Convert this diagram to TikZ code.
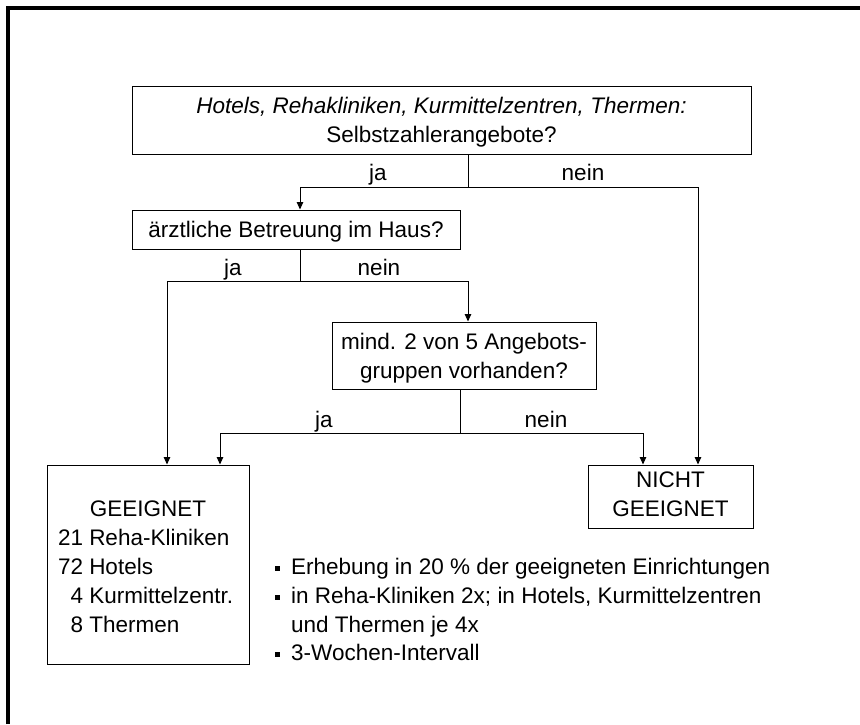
\documentclass[tikz,border=0pt]{standalone}
\usepackage{fontspec}
\setmainfont{Liberation Sans}
\usetikzlibrary{arrows.meta}
\newcommand\tstrut{\rule{0pt}{21pt}}
\newcommand\dstrut{\rule[-4.5pt]{0pt}{4.5pt}}
\newcommand\sqbullet{\rule[3.5pt]{5pt}{5pt}\hspace{11pt}}
\begin{document}
\begin{tikzpicture}[x=1pt,y=-1pt,
  every node/.style={font=\fontsize{22.5pt}{29.5pt}\selectfont},
  box/.style={draw, line width=1pt, inner sep=0pt, align=center},
  link/.style={line width=1pt},
  arr/.style={line width=1pt, -{Triangle[length=7.5pt,width=6.5pt]}},
  lbl/.style={anchor=base, inner sep=0pt},
  txt/.style={anchor=base west, inner sep=0pt}
]
\useasboundingbox (0,0) rectangle (860,724);
\draw[line width=3.2pt] (8,724) -- (8,8) -- (860,8);

% boxes
\node[box, minimum width=619pt, minimum height=68pt] (q1) at (441.5,120)
  {\tstrut\itshape Hotels, Rehakliniken, Kurmittelzentren, Thermen:\\Selbstzahlerangebote?};
\node[box, minimum width=328pt, minimum height=39pt] (q2) at (296,229.5)
  {\tstrut ärztliche Betreuung im Haus?};
\node[box, minimum width=264pt, minimum height=67pt, font=\fontsize{22.5pt}{29pt}\selectfont] (q3) at (464,355.5)
  {\tstrut mind. 2 von 5 Angebots-\\gruppen vorhanden?};
\node[box, minimum width=202pt, minimum height=199pt, align=left, font=\fontsize{22.5pt}{29pt}\selectfont] (ok) at (148,564.5)
  {\tstrut\makebox[180pt][c]{GEEIGNET}\\21 Reha-Kliniken\\72 Hotels\\\hphantom{0}4 Kurmittelzentr.\\\hphantom{0}8 Thermen};
\node[box, minimum width=165pt, minimum height=63pt, font=\fontsize{22.5pt}{29pt}\selectfont] (no) at (670.5,496.5)
  {NICHT\\GEEIGNET\dstrut};

% junctions
\coordinate (j1) at (468,187);
\coordinate (j1l) at (300,187);
\coordinate (j1r) at (698,187);
\coordinate (j2) at (300,281);
\coordinate (j2l) at (167,281);
\coordinate (j2r) at (468,281);
\coordinate (j3) at (460,433);
\coordinate (j3l) at (220,433);
\coordinate (j3r) at (643,433);

% connectors
\draw[link] (q1.south -| j1) -- (j1);
\draw[arr] (j1) -| (q2.north -| j1l);
\draw[arr] (j1) -| (no.north -| j1r);
\draw[link] (q2.south -| j2) -- (j2);
\draw[arr] (j2) -| (ok.north -| j2l);
\draw[arr] (j2) -| (q3.north -| j2r);
\draw[link] (q3.south -| j3) -- (j3);
\draw[arr] (j3) -| (ok.north -| j3l);
\draw[arr] (j3) -| (no.north -| j3r);

% branch labels
\node[lbl] (l1a) at (378,180) {ja};
\node[lbl] (l1b) at (583,180) {nein};
\node[lbl] (l2a) at (233,275) {ja};
\node[lbl] (l2b) at (379,275) {nein};
\node[lbl] (l3a) at (324,427) {ja};
\node[lbl] (l3b) at (546,427) {nein};

% bullet notes
\node[txt] (n1) at (275,574) {\sqbullet Erhebung in 20 \% der geeigneten Einrichtungen};
\node[txt] (n2) at (275,603) {\sqbullet in Reha-Kliniken 2x; in Hotels, Kurmittelzentren};
\node[txt] (n3) at (291,632) {und Thermen je 4x};
\node[txt] (n4) at (275,660) {\sqbullet 3-Wochen-Intervall};
\end{tikzpicture}
\end{document}
